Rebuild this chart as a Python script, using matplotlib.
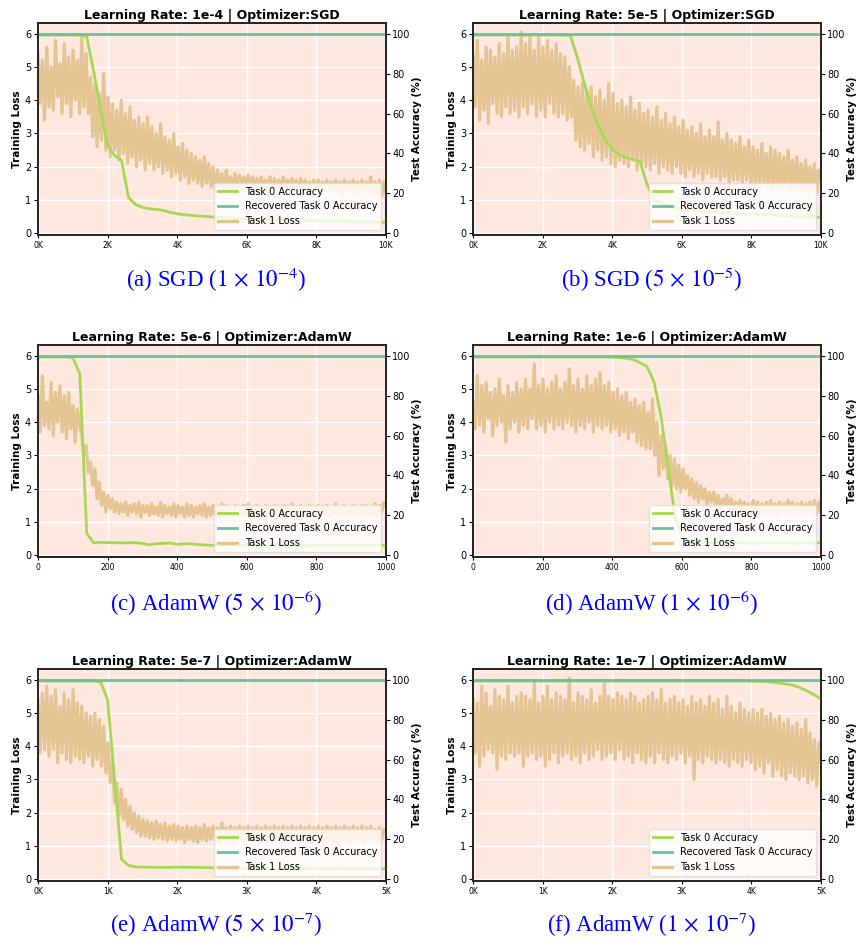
import numpy as np
import matplotlib
matplotlib.use('Agg')
import matplotlib.pyplot as plt
from matplotlib.ticker import FuncFormatter

plt.rcParams['font.family'] = 'DejaVu Sans'
plt.rcParams['mathtext.fontset'] = 'stix'

# ---- data ----
# loss: evenly spaced samples over the whole run (left axis)
# accuracy: Task 0 accuracy in %, one value per eval step (right axis)

# (a) SGD 1e-4, 10K steps
sgd_1e4_loss = [5.4, 3.9, 5.2, 3.4, 5.6, 3.8, 5.0, 3.7, 5.8, 4.1,
                5.1, 3.6, 5.7, 3.9, 5.3, 3.5, 5.5, 4.0, 5.2, 3.6,
                5.9, 3.8, 5.4, 3.6, 4.7, 2.9, 4.5, 2.6, 4.2, 2.8,
                4.8, 2.5, 4.1, 2.3, 3.9, 2.5, 3.7, 2.2, 4.0, 2.4,
                3.6, 2.1, 3.8, 2.3, 3.4, 2.0, 3.5, 2.2, 3.3, 1.9,
                3.5, 2.1, 3.2, 1.9, 3.0, 2.0, 3.3, 1.8, 2.9, 1.9,
                2.8, 1.7, 3.0, 1.8, 2.6, 1.6, 2.7, 1.7, 2.5, 1.5,
                2.4, 1.6, 2.3, 1.5, 2.2, 1.4, 2.3, 1.5, 2.1, 1.4,
                2.0, 1.3, 1.9, 1.4, 1.8, 1.3, 1.9, 1.4, 1.7, 1.3,
                1.8, 1.35, 1.75, 1.3, 1.7, 1.4, 1.75, 1.3, 1.7, 1.35,
                1.65, 1.3, 1.7, 1.35, 1.6, 1.3, 1.7, 1.3, 1.65, 1.35,
                1.6, 1.3, 1.7, 1.25, 1.6, 1.35, 1.65, 1.3, 1.6, 1.3,
                1.65, 1.25, 1.6, 1.3, 1.55, 1.25, 1.6, 1.3, 1.6, 1.25,
                1.55, 1.3, 1.6, 1.25, 1.55, 1.3, 1.6, 1.25, 1.55, 1.2,
                1.6, 1.25, 1.55, 1.3, 1.6, 1.2, 1.55, 1.3, 1.6, 1.25,
                1.55, 1.2, 1.7, 1.25, 1.55, 1.2, 1.6, 1.1, 1.55, 1.2]
sgd_1e4_acc = [99.3, 99.3, 99.3, 99.3, 99.3, 99.3, 99.2, 98.5, 81, 62, 44, 39, 36.5, 18,
               14.5, 13, 12.3, 12, 11.5, 10.5, 9.8, 9.3, 9, 8.7, 8.5, 8.2, 8.0, 7.9, 7.7,
               7.5, 7.3, 7.2, 7.1, 7.0, 6.9, 6.8, 6.7, 6.6, 6.5, 6.4, 6.3, 6.2, 6.1, 6.0,
               5.9, 5.9, 5.8, 5.7, 5.6, 5.6, 5.5]

# (b) SGD 5e-5, 10K steps
sgd_5e5_loss = [5.4, 3.8, 5.8, 3.4, 5.2, 3.7, 5.6, 3.3, 5.5, 3.9,
                5.3, 3.6, 5.7, 3.5, 5.4, 3.8, 5.9, 3.6, 5.5, 3.7,
                5.6, 3.5, 6.05, 3.8, 5.7, 3.6, 5.9, 3.9, 5.5, 3.5,
                5.9, 3.7, 5.6, 3.5, 5.8, 3.9, 5.5, 3.6, 5.7, 3.5,
                5.4, 3.6, 5.3, 3.4, 5.0, 3.5, 4.6, 2.8, 4.4, 2.6,
                4.5, 2.5, 4.3, 2.7, 4.4, 2.3, 4.1, 2.5, 4.3, 2.2,
                4.0, 2.3, 4.5, 2.1, 4.2, 2.0, 3.9, 2.2, 4.0, 2.1,
                3.8, 2.0, 4.1, 2.2, 3.7, 1.9, 3.9, 2.1, 3.6, 2.0,
                3.7, 1.9, 3.5, 2.1, 3.8, 1.8, 3.4, 2.0, 3.6, 1.9,
                3.3, 1.8, 3.5, 2.0, 3.2, 1.8, 3.4, 1.7, 3.1, 1.9,
                3.2, 1.7, 3.0, 1.8, 3.3, 1.6, 2.9, 1.8, 3.1, 1.7,
                2.9, 1.7, 3.35, 1.6, 2.8, 1.7, 3.0, 1.5, 2.8, 1.6,
                2.7, 1.6, 2.9, 1.5, 2.6, 1.6, 2.8, 1.4, 2.6, 1.5,
                2.5, 1.4, 2.7, 1.5, 2.4, 1.4, 2.6, 1.3, 2.5, 1.4,
                2.4, 1.3, 2.3, 1.4, 2.5, 1.3, 2.2, 1.35, 2.3, 1.3,
                2.1, 1.3, 2.2, 1.25, 2.0, 1.3, 2.1, 1.2, 1.9, 1.6]
sgd_5e5_acc = [99.3] * 14 + [99.0,
               88, 75, 63, 54, 47, 42, 39.5, 37.8, 37, 36, 24.5, 17, 15, 14, 13, 12,
               11.7, 11.3, 11, 10.7, 10.4, 10.2, 10, 9.9, 9.7, 9.6, 9.4, 9.3, 9.1, 9.0,
               8.8, 8.6, 8.4, 8.3, 8.1, 8.0]

# (c) AdamW 5e-6, 1000 steps
adamw_5e6_loss = [4.8, 3.7, 5.4, 3.9, 4.6, 3.8, 5.2, 3.6, 4.9, 4.0,
                  5.1, 3.7, 4.8, 3.5, 4.9, 3.8, 4.5, 3.4, 4.4, 3.9,
                  3.6, 3.0, 3.3, 2.5, 2.8, 2.1, 2.6, 1.7, 2.2, 1.5,
                  1.9, 1.3, 1.8, 1.4, 1.7, 1.3, 1.6, 1.25, 1.55, 1.3,
                  1.6, 1.2, 1.5, 1.3, 1.55, 1.25, 1.6, 1.15, 1.5, 1.3,
                  1.5, 1.2, 1.55, 1.25, 1.45, 1.2, 1.6, 1.15, 1.5, 1.25,
                  1.45, 1.2, 1.55, 1.15, 1.5, 1.25, 1.45, 1.15, 1.55, 1.2,
                  1.5, 1.15, 1.45, 1.25, 1.5, 1.2, 1.55, 1.15, 1.45, 1.2,
                  1.5, 1.2, 1.45, 1.15, 1.55, 1.2, 1.5, 1.15, 1.45, 1.25,
                  1.5, 1.15, 1.45, 1.2, 1.5, 1.15, 1.55, 1.2, 1.45, 1.15,
                  1.5, 1.2, 1.45, 1.15, 1.5, 1.2, 1.45, 1.15, 1.5, 1.2,
                  1.45, 1.15, 1.5, 1.2, 1.45, 1.15, 1.55, 1.2, 1.45, 1.15,
                  1.5, 1.2, 1.45, 1.15, 1.5, 1.2, 1.45, 1.15, 1.5, 1.2,
                  1.45, 1.2, 1.5, 1.15, 1.45, 1.2, 1.55, 1.15, 1.45, 1.2,
                  1.5, 1.15, 1.45, 1.2, 1.5, 1.15, 1.45, 1.2, 1.5, 1.15,
                  1.5, 1.2, 1.45, 1.2, 1.55, 1.15, 1.5, 1.3, 1.6, 1.45]
adamw_5e6_acc = [99.3, 99.3, 99.3, 99.3, 99.3, 99.0,
                 91, 11, 6.2, 6.5, 6.4, 6.3, 6.2, 6.3, 6.3, 6.0, 5.3, 5.8, 6.0, 6.2,
                 5.5, 5.8, 5.7, 5.4, 5.2, 5.0, 5.0, 5.1, 5.0, 4.9, 5.0, 5.1, 5.0, 5.1,
                 5.0, 4.9,
                 5.0, 5.1, 5.0, 4.9, 5.0, 5.1, 5.2, 5.0, 4.9, 5.0, 5.1, 5.0, 5.2, 5.0, 4.9]

# (d) AdamW 1e-6, 1000 steps
adamw_1e6_loss = [4.6, 3.8, 5.4, 3.9, 5.1, 3.7, 5.2, 4.1, 4.9, 3.6,
                  5.0, 3.9, 5.3, 4.0, 4.8, 3.4, 5.1, 3.8, 4.9, 4.0,
                  5.2, 3.7, 5.0, 3.9, 5.3, 3.8, 5.0, 4.1, 5.75, 3.8,
                  5.1, 3.9, 5.3, 3.7, 5.0, 4.0, 5.2, 3.8, 5.4, 3.9,
                  5.0, 3.8, 5.2, 4.0, 5.6, 3.9, 5.1, 3.7, 5.3, 3.9,
                  5.0, 3.8, 5.4, 4.0, 5.1, 3.7, 5.3, 3.9, 5.5, 3.8,
                  5.1, 3.9, 5.2, 3.7, 4.9, 3.8, 5.0, 3.6, 4.8, 3.7,
                  4.9, 3.5, 4.6, 3.7, 4.7, 3.4, 4.5, 3.3, 4.6, 3.2,
                  4.3, 3.2, 4.7, 3.0, 4.0, 2.4, 3.6, 2.6, 3.3, 2.3,
                  3.0, 2.1, 2.9, 2.0, 2.7, 1.9, 2.6, 2.0, 2.4, 1.8,
                  2.3, 1.7, 2.2, 1.6, 2.1, 1.7, 2.0, 1.5, 1.9, 1.6,
                  1.9, 1.5, 1.8, 1.4, 1.7, 1.5, 1.8, 1.4, 1.7, 1.3,
                  1.6, 1.3, 1.65, 1.25, 1.6, 1.3, 1.55, 1.25, 1.65, 1.3,
                  1.6, 1.25, 1.55, 1.3, 1.6, 1.25, 1.65, 1.3, 1.55, 1.25,
                  1.6, 1.3, 1.55, 1.25, 1.65, 1.3, 1.6, 1.25, 1.55, 1.3,
                  1.6, 1.25, 1.55, 1.3, 1.6, 1.2, 1.65, 1.25, 1.6, 1.3]
adamw_1e6_acc = [99.3] * 20 + [99.2, 99.0, 98.7, 98, 96.5, 94.5, 87, 70, 45, 20, 9, 7, 6.5,
                 6.4, 6.3, 6.3, 6.2, 6.3, 6.4, 6.3, 6.2, 6.2, 6.3, 6.3, 6.2, 6.3, 6.2,
                 6.2, 6.3, 6.2, 6.3]

# (e) AdamW 5e-7, 5K steps
adamw_5e7_loss = [5.4, 3.8, 5.6, 3.9, 5.8, 3.7, 5.5, 3.9, 5.7, 3.5,
                  5.2, 3.8, 5.6, 3.6, 5.4, 3.5, 5.7, 3.7, 5.3, 3.6,
                  5.2, 3.5, 5.0, 3.7, 4.9, 3.4, 5.0, 3.6, 4.8, 3.4,
                  4.6, 3.2, 4.1, 2.9, 3.5, 2.3, 2.9, 1.9, 2.7, 1.8,
                  2.4, 1.6, 2.2, 1.5, 2.0, 1.4, 1.9, 1.3, 1.8, 1.3,
                  1.75, 1.25, 1.7, 1.2, 1.75, 1.25, 1.65, 1.2, 1.7, 1.15,
                  1.6, 1.2, 1.65, 1.15, 1.6, 1.2, 1.55, 1.1, 1.6, 1.2,
                  1.55, 1.15, 1.6, 1.1, 1.55, 1.2, 1.65, 1.15, 1.55, 1.2,
                  1.6, 1.15, 1.55, 1.1, 1.7, 1.2, 1.55, 1.15, 1.6, 1.1,
                  1.55, 1.2, 1.6, 1.15, 1.55, 1.1, 1.6, 1.2, 1.55, 1.15,
                  1.6, 1.1, 1.55, 1.2, 1.6, 1.15, 1.55, 1.1, 1.6, 1.2,
                  1.55, 1.15, 1.6, 1.1, 1.55, 1.2, 1.6, 1.15, 1.55, 1.1,
                  1.6, 1.2, 1.55, 1.15, 1.6, 1.1, 1.55, 1.2, 1.6, 1.15,
                  1.55, 1.1, 1.6, 1.2, 1.55, 1.15, 1.6, 1.1, 1.55, 1.2,
                  1.6, 1.15, 1.55, 1.1, 1.6, 1.2, 1.55, 1.15, 1.6, 1.1,
                  1.55, 1.2, 1.6, 1.15, 1.5, 1.1, 1.55, 1.2, 1.5, 1.45]
adamw_5e7_acc = [99.3] * 9 + [98.8, 90, 50, 10, 7, 6.2,
                 6.1, 6.1, 6.0, 6.0, 6.0, 6.1, 6.1, 6.0, 6.0, 5.9, 5.8, 5.7, 5.6, 5.5,
                 5.5, 5.5, 5.5, 5.4, 5.4, 5.4, 5.4, 5.4, 5.5, 5.5, 5.4, 5.4, 5.3, 5.3,
                 5.4, 5.4, 5.3, 5.3, 5.3, 5.3, 5.2, 5.3]

# (f) AdamW 1e-7, 5K steps
adamw_1e7_loss = [5.4, 3.8, 5.3, 3.4, 5.8, 3.7, 5.6, 3.9, 5.2, 3.8,
                  5.7, 3.3, 5.5, 3.7, 5.4, 3.6, 5.8, 3.8, 5.3, 3.7,
                  5.5, 3.8, 5.6, 3.4, 5.5, 3.7, 5.4, 3.8, 5.9, 3.6,
                  5.3, 3.7, 5.5, 3.4, 5.8, 3.6, 5.4, 3.8, 5.6, 3.5,
                  5.5, 3.7, 5.4, 3.8, 6.05, 3.6, 5.3, 3.7, 5.6, 3.5,
                  5.5, 3.8, 5.4, 3.6, 5.7, 3.7, 5.3, 3.9, 5.5, 3.6,
                  5.9, 3.7, 5.5, 3.8, 5.4, 3.6, 5.6, 3.9, 5.5, 3.6,
                  5.4, 3.7, 5.6, 3.5, 5.5, 3.8, 5.3, 3.6, 5.4, 3.5,
                  5.5, 3.7, 5.6, 3.5, 5.4, 3.8, 5.7, 3.6, 5.3, 3.5,
                  5.4, 3.7, 5.5, 3.6, 5.3, 3.8, 5.4, 3.5, 5.2, 3.7,
                  5.5, 3.0, 5.3, 3.6, 5.4, 3.5, 5.2, 3.7, 5.5, 3.6,
                  5.3, 3.5, 5.4, 3.6, 5.1, 3.5, 5.5, 3.4, 5.2, 3.6,
                  5.0, 3.5, 5.3, 3.4, 5.1, 3.6, 5.0, 3.5, 5.1, 3.3,
                  5.0, 3.4, 5.1, 3.2, 4.9, 3.5, 5.0, 3.1, 4.8, 3.3,
                  4.9, 3.1, 4.7, 3.0, 4.8, 3.2, 4.6, 3.1, 4.7, 3.0,
                  4.5, 3.1, 4.8, 2.9, 4.4, 3.0, 4.2, 2.8, 4.1, 3.6]
adamw_1e7_acc = [99.3] * 40 + [99.2, 99.1, 99.0, 98.7, 98.3, 97.8, 97.2, 96.0, 94.3, 92.5, 90.3]

recovered_acc = 100.0

panels = [
    # title, caption, total steps, eval step, loss, acc, "K" tick format
    ("Learning Rate: 1e-4 | Optimizer:SGD", r"(a) SGD ($1\,\times\,10^{-4}$)",
     10000, 200, sgd_1e4_loss, sgd_1e4_acc, True),
    ("Learning Rate: 5e-5 | Optimizer:SGD", r"(b) SGD ($5\,\times\,10^{-5}$)",
     10000, 200, sgd_5e5_loss, sgd_5e5_acc, True),
    ("Learning Rate: 5e-6 | Optimizer:AdamW", r"(c) AdamW ($5\,\times\,10^{-6}$)",
     1000, 20, adamw_5e6_loss, adamw_5e6_acc, False),
    ("Learning Rate: 1e-6 | Optimizer:AdamW", r"(d) AdamW ($1\,\times\,10^{-6}$)",
     1000, 20, adamw_1e6_loss, adamw_1e6_acc, False),
    ("Learning Rate: 5e-7 | Optimizer:AdamW", r"(e) AdamW ($5\,\times\,10^{-7}$)",
     5000, 100, adamw_5e7_loss, adamw_5e7_acc, True),
    ("Learning Rate: 1e-7 | Optimizer:AdamW", r"(f) AdamW ($1\,\times\,10^{-7}$)",
     5000, 100, adamw_1e7_loss, adamw_1e7_acc, True),
]

c_bg = '#fee8e0'
c_green = '#a6d854'
c_teal = '#66c2a5'
c_loss = '#e5c494'

fig = plt.figure(figsize=(8.58, 9.41), dpi=100)

W, H = 858, 941
lefts = [38, 473]
tops = [23, 345, 669]
ax_w, ax_h = 348, 212
cap_x = [216, 652]
cap_y = [280, 603, 925]

loss_lim = (-0.05, 6.32)

for i, (title, caption, total, acs, loss, acc, kfmt) in enumerate(panels):
    r, c = divmod(i, 2)
    ax = fig.add_axes([lefts[c] / W, 1 - (tops[r] + ax_h) / H, ax_w / W, ax_h / H])
    ax.set_facecolor(c_bg)
    ax.grid(True, color='white', linewidth=1.0)
    ax.set_axisbelow(True)

    # loss curve (left axis)
    loss_x = np.linspace(0, total, len(loss))
    l_loss, = ax.plot(loss_x, loss, color=c_loss, linewidth=2.3, label='Task 1 Loss')
    ax.set_xlim(0, total)
    ax.set_ylim(*loss_lim)
    ax.set_yticks(range(0, 7))
    ax.set_ylabel('Training Loss', fontsize=7.5, fontweight='bold', labelpad=2)
    ax.set_title(title, fontsize=9, fontweight='bold', pad=3)

    # accuracy curves (right axis)
    ax2 = ax.twinx()
    acc_x = np.arange(len(acc)) * acs
    l_acc, = ax2.plot(acc_x, acc, color=c_green, linewidth=2.0, label='Task 0 Accuracy')
    l_rec, = ax2.plot(acc_x, np.full(len(acc), recovered_acc), color=c_teal,
                      linewidth=2.0, label='Recovered Task 0 Accuracy')
    ax2.set_ylim(loss_lim[0] * 100 / 6, loss_lim[1] * 100 / 6)
    ax2.set_yticks(range(0, 101, 20))
    ax2.set_ylabel('Test Accuracy (%)', fontsize=7.5, fontweight='bold', labelpad=1)

    if kfmt:
        ax.xaxis.set_major_formatter(FuncFormatter(lambda v, p: f'{int(v / 1000)}K'))
    ax.tick_params(axis='x', labelsize=5.5, length=2, pad=2)
    ax.tick_params(axis='y', labelsize=7, length=3, pad=2)
    ax2.tick_params(axis='y', labelsize=7, length=3, pad=1.5)

    for a in (ax, ax2):
        for s in a.spines.values():
            s.set_color('#222222')
            s.set_linewidth(1.2)

    ax2.legend(handles=[l_acc, l_rec, l_loss], loc='lower right', fontsize=7,
               framealpha=0.8, facecolor='white', edgecolor='#dddddd')

    fig.text(cap_x[c] / W, 1 - cap_y[r] / H, caption, ha='center', va='center',
             fontsize=16.5, color='blue', family='Liberation Serif')

fig.savefig('out.png', dpi=100)
